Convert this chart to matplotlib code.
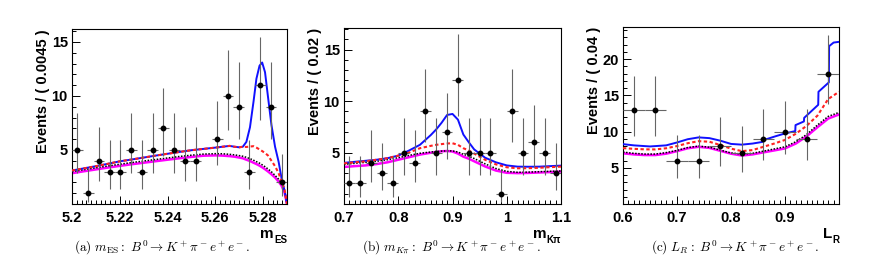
import numpy as np
import matplotlib.pyplot as plt
from matplotlib.ticker import MultipleLocator, FixedLocator

plt.rcParams['font.family'] = ['Liberation Sans', 'DejaVu Sans']
plt.rcParams['font.weight'] = 'bold'
plt.rcParams['mathtext.fontset'] = 'cm'

# Poisson error bars, indexed by the bin count
err_lo_tab = [0.0, 0.83, 1.29, 1.63, 1.91, 2.16, 2.38, 2.58, 2.77, 2.94,
              3.11, 3.26, 3.41, 3.55, 3.68, 3.80, 3.92, 4.06, 4.20]
err_hi_tab = [1.15, 2.30, 2.64, 2.92, 3.16, 3.38, 3.58, 3.77, 3.95, 4.11,
              4.27, 4.42, 4.56, 4.70, 4.83, 4.96, 5.08, 5.20, 5.32]

# (a) m_ES
mes_centers = [5.20225 + 0.0045 * i for i in range(20)]
mes_counts = [5, 1, 4, 3, 3, 5, 3, 5, 7, 5, 4, 4, 0, 6, 10, 9, 3, 11, 9, 2]
mes_x = [5.200, 5.205, 5.210, 5.215, 5.220, 5.225, 5.230, 5.235, 5.240, 5.245,
         5.250, 5.255, 5.260, 5.263, 5.266, 5.268, 5.270, 5.2715, 5.273, 5.2745,
         5.276, 5.2772, 5.2785, 5.2796, 5.2808, 5.282, 5.2835, 5.285, 5.2865, 5.2877,
         5.289, 5.290]
mes_total = [3.1, 3.3, 3.5, 3.72, 3.95, 4.12, 4.3, 4.48, 4.65, 4.82,
             4.98, 5.1, 5.22, 5.3, 5.38, 5.3, 5.25, 5.3, 5.75, 7.1,
             9.5, 11.6, 12.8, 13.1, 12.2, 10.0, 7.3, 5.3, 3.9, 2.4,
             1.2, 0.0]
mes_bkg = [3.1, 3.3, 3.5, 3.72, 3.95, 4.12, 4.3, 4.48, 4.65, 4.82,
           4.98, 5.1, 5.22, 5.3, 5.38, 5.3, 5.25, 5.3, 5.28, 5.32,
           5.35, 5.22, 5.05, 4.9, 4.72, 4.5, 4.0, 3.5, 2.85, 2.1,
           1.3, 0.0]
mes_comb = [3.0, 3.18, 3.35, 3.52, 3.68, 3.84, 3.98, 4.12, 4.26, 4.4,
            4.52, 4.62, 4.66, 4.65, 4.6, 4.55, 4.48, 4.42, 4.32, 4.2,
            4.05, 3.92, 3.78, 3.63, 3.45, 3.25, 2.98, 2.65, 2.3, 1.95,
            1.3, 0.0]
mes_cont = [2.85, 3.03, 3.2, 3.37, 3.53, 3.68, 3.82, 3.96, 4.1, 4.23,
            4.36, 4.47, 4.5, 4.48, 4.43, 4.38, 4.3, 4.23, 4.1, 3.98,
            3.82, 3.7, 3.55, 3.4, 3.22, 3.02, 2.75, 2.45, 2.08, 1.7,
            1.05, 0.0]

# (b) m_Kpi
mkpi_centers = [0.71 + 0.02 * i for i in range(20)]
mkpi_counts = [2, 2, 4, 3, 2, 5, 4, 9, 5, 7, 12, 5, 5, 5, 1, 9, 5, 6, 5, 3]
mkpi_x = [0.70, 0.72, 0.74, 0.76, 0.78, 0.80, 0.82, 0.84, 0.86, 0.87,
          0.88, 0.89, 0.90, 0.91, 0.92, 0.93, 0.94, 0.96, 0.98, 1.00,
          1.02, 1.04, 1.06, 1.08, 1.10]
mkpi_total = [4.0, 4.1, 4.2, 4.3, 4.45, 4.7, 5.2, 5.75, 6.7, 7.25,
              7.9, 8.65, 8.75, 8.2, 6.75, 6.0, 5.3, 4.5, 4.05, 3.75,
              3.63, 3.62, 3.63, 3.68, 3.73]
mkpi_bkg = [3.95, 4.05, 4.15, 4.3, 4.45, 4.7, 5.0, 5.42, 5.65, 5.75,
            5.82, 5.88, 5.9, 5.75, 5.42, 5.2, 4.9, 4.3, 3.85, 3.57,
            3.47, 3.48, 3.52, 3.58, 3.63]
mkpi_comb = [3.85, 3.95, 4.05, 4.15, 4.3, 4.5, 4.72, 4.93, 5.05, 5.1,
             5.14, 5.16, 5.16, 5.05, 4.83, 4.65, 4.42, 3.9, 3.45, 3.17,
             3.08, 3.1, 3.14, 3.18, 3.21]
mkpi_cont = [3.6, 3.68, 3.75, 3.88, 4.05, 4.3, 4.55, 4.8, 4.98, 5.05,
             5.12, 5.15, 5.1, 4.9, 4.6, 4.4, 4.15, 3.65, 3.25, 3.03,
             3.0, 3.02, 3.06, 3.1, 3.15]

# (c) L_R
lr_centers = [0.62 + 0.04 * i for i in range(10)]
lr_counts = [13, 13, 6, 6, 8, 7, 9, 10, 9, 18]
lr_x_total = [0.60, 0.62, 0.65, 0.68, 0.70, 0.72, 0.74, 0.76, 0.78, 0.80,
              0.82, 0.84, 0.86, 0.8605, 0.88, 0.90, 0.919, 0.9195, 0.935, 0.9355,
              0.9615, 0.962, 0.9812, 0.9817, 0.99, 1.00]
lr_total = [8.27, 8.1, 7.95, 8.1, 8.5, 8.95, 9.2, 9.1, 8.75, 8.3,
            8.2, 8.35, 8.6, 8.83, 9.3, 9.75, 10.07, 10.9, 11.4, 11.9,
            13.7, 15.5, 16.8, 21.8, 22.3, 22.4]
lr_x = [0.60, 0.62, 0.64, 0.66, 0.68, 0.70, 0.72, 0.74, 0.76, 0.78,
        0.80, 0.82, 0.84, 0.86, 0.88, 0.90, 0.92, 0.94, 0.96, 0.98, 1.00]
lr_bkg = [7.72, 7.62, 7.55, 7.54, 7.7, 8.0, 8.4, 8.68, 8.6, 8.15,
          7.65, 7.3, 7.45, 7.9, 8.35, 8.85, 9.7, 10.8, 12.2, 14.5, 15.5]
lr_comb = [7.17, 7.0, 6.9, 6.9, 7.1, 7.4, 7.8, 8.0, 7.85, 7.45,
           7.05, 6.9, 7.0, 7.3, 7.6, 7.9, 8.6, 9.6, 10.9, 12.1, 12.65]
lr_cont = [7.0, 6.85, 6.76, 6.76, 6.95, 7.3, 7.7, 7.9, 7.75, 7.35,
           6.95, 6.7, 6.85, 7.13, 7.4, 7.68, 8.35, 9.35, 10.6, 11.8, 12.37]

fig = plt.figure(figsize=(8.83, 2.73), dpi=100)


def draw_panel(rect, centers, counts, binw, curves, xlim, ylim, xmin,
               xticks, xticklabels, ylabel, xl_main, xl_sub, caption, cap_x):
    ax = fig.add_axes(rect)
    x_tot, y_tot, x_b, y_bkg, y_comb, y_cont = curves
    ax.plot(x_b, y_cont, color='#ff00ff', lw=1.8, zorder=2)
    ax.plot(x_b, y_comb, color='black', lw=1.1, dashes=(1, 1), zorder=3)
    ax.plot(x_tot, y_tot, color='#1010ff', lw=1.4, zorder=4)
    ax.plot(x_b, y_bkg, color='#ff2020', lw=1.5, dashes=(1.6, 1.2), zorder=5)

    c = np.array(centers)
    n = np.array(counts)
    keep = n > 0
    lo = np.array([err_lo_tab[k] for k in n])
    hi = np.array([err_hi_tab[k] for k in n])
    ax.errorbar(c[keep], n[keep], yerr=[lo[keep], hi[keep]], xerr=binw / 2,
                fmt='o', ms=3.2, color='black', ecolor='0.4',
                elinewidth=0.8, capsize=0, zorder=6)

    ax.set_xlim(*xlim)
    ax.set_ylim(*ylim)
    ax.xaxis.set_major_locator(FixedLocator(xticks))
    ax.set_xticklabels(xticklabels)
    ax.xaxis.set_minor_locator(MultipleLocator(xmin))
    ax.yaxis.set_major_locator(FixedLocator([5, 10, 15, 20]))
    ax.yaxis.set_minor_locator(MultipleLocator(1))
    ax.tick_params(which='both', direction='in', top=False, right=False,
                   labelsize=10.5, width=0.7)
    ax.tick_params(which='major', length=6)
    ax.tick_params(which='minor', length=3)
    ax.tick_params(axis='x', pad=5)
    ax.tick_params(axis='y', pad=3)
    for s in ax.spines.values():
        s.set_linewidth(0.8)

    ax.set_ylabel(ylabel, fontsize=10.5, fontweight='bold', loc='top')
    ax.yaxis.set_label_coords(-22.0 / (rect[2] * 883), 1.0)

    sub = ax.text(1.0, -0.175, xl_sub, transform=ax.transAxes, ha='right',
                  va='top', fontsize=7, fontweight='bold')
    ax.annotate(xl_main, xy=(0, 0.35), xycoords=sub, ha='right', va='bottom',
                fontsize=11, fontweight='bold')

    fig.text(cap_x / 883, 1 - 248 / 273, caption, ha='center', va='center',
             fontsize=9.5)
    return ax


draw_panel([72 / 883, 69 / 273, 215 / 883, 175 / 273],
           mes_centers, mes_counts, 0.0045,
           (mes_x, mes_total, mes_x, mes_bkg, mes_comb, mes_cont),
           (5.2, 5.29), (0, 16.2), 0.002,
           [5.2, 5.22, 5.24, 5.26, 5.28], ['5.2', '5.22', '5.24', '5.26', '5.28'],
           'Events / ( 0.0045 )', 'm', 'ES',
           r'$\mathrm{(a)}\ m_{\mathrm{ES}}\mathrm{:}\ B^0 \rightarrow K^+\pi^-e^+e^-.$',
           162)

draw_panel([344 / 883, 69 / 273, 217 / 883, 176 / 273],
           mkpi_centers, mkpi_counts, 0.02,
           (mkpi_x, mkpi_total, mkpi_x, mkpi_bkg, mkpi_comb, mkpi_cont),
           (0.7, 1.1), (0, 17.1), 0.01,
           [0.7, 0.8, 0.9, 1.0, 1.1], ['0.7', '0.8', '0.9', '1', '1.1'],
           'Events / ( 0.02 )', 'm', 'K\u03c0',
           r'$\mathrm{(b)}\ m_{K\pi}\mathrm{:}\ B^0 \rightarrow K^+\pi^-e^+e^-.$',
           451)

draw_panel([623 / 883, 69 / 273, 216 / 883, 177 / 273],
           lr_centers, lr_counts, 0.04,
           (lr_x_total, lr_total, lr_x, lr_bkg, lr_comb, lr_cont),
           (0.6, 1.0), (0, 24.45), 0.01,
           [0.6, 0.7, 0.8, 0.9], ['0.6', '0.7', '0.8', '0.9'],
           'Events / ( 0.04 )', 'L', 'R',
           r'$\mathrm{(c)}\ L_R\mathrm{:}\ B^0 \rightarrow K^+\pi^-e^+e^-.$',
           735)

fig.savefig('out.png', dpi=100)
